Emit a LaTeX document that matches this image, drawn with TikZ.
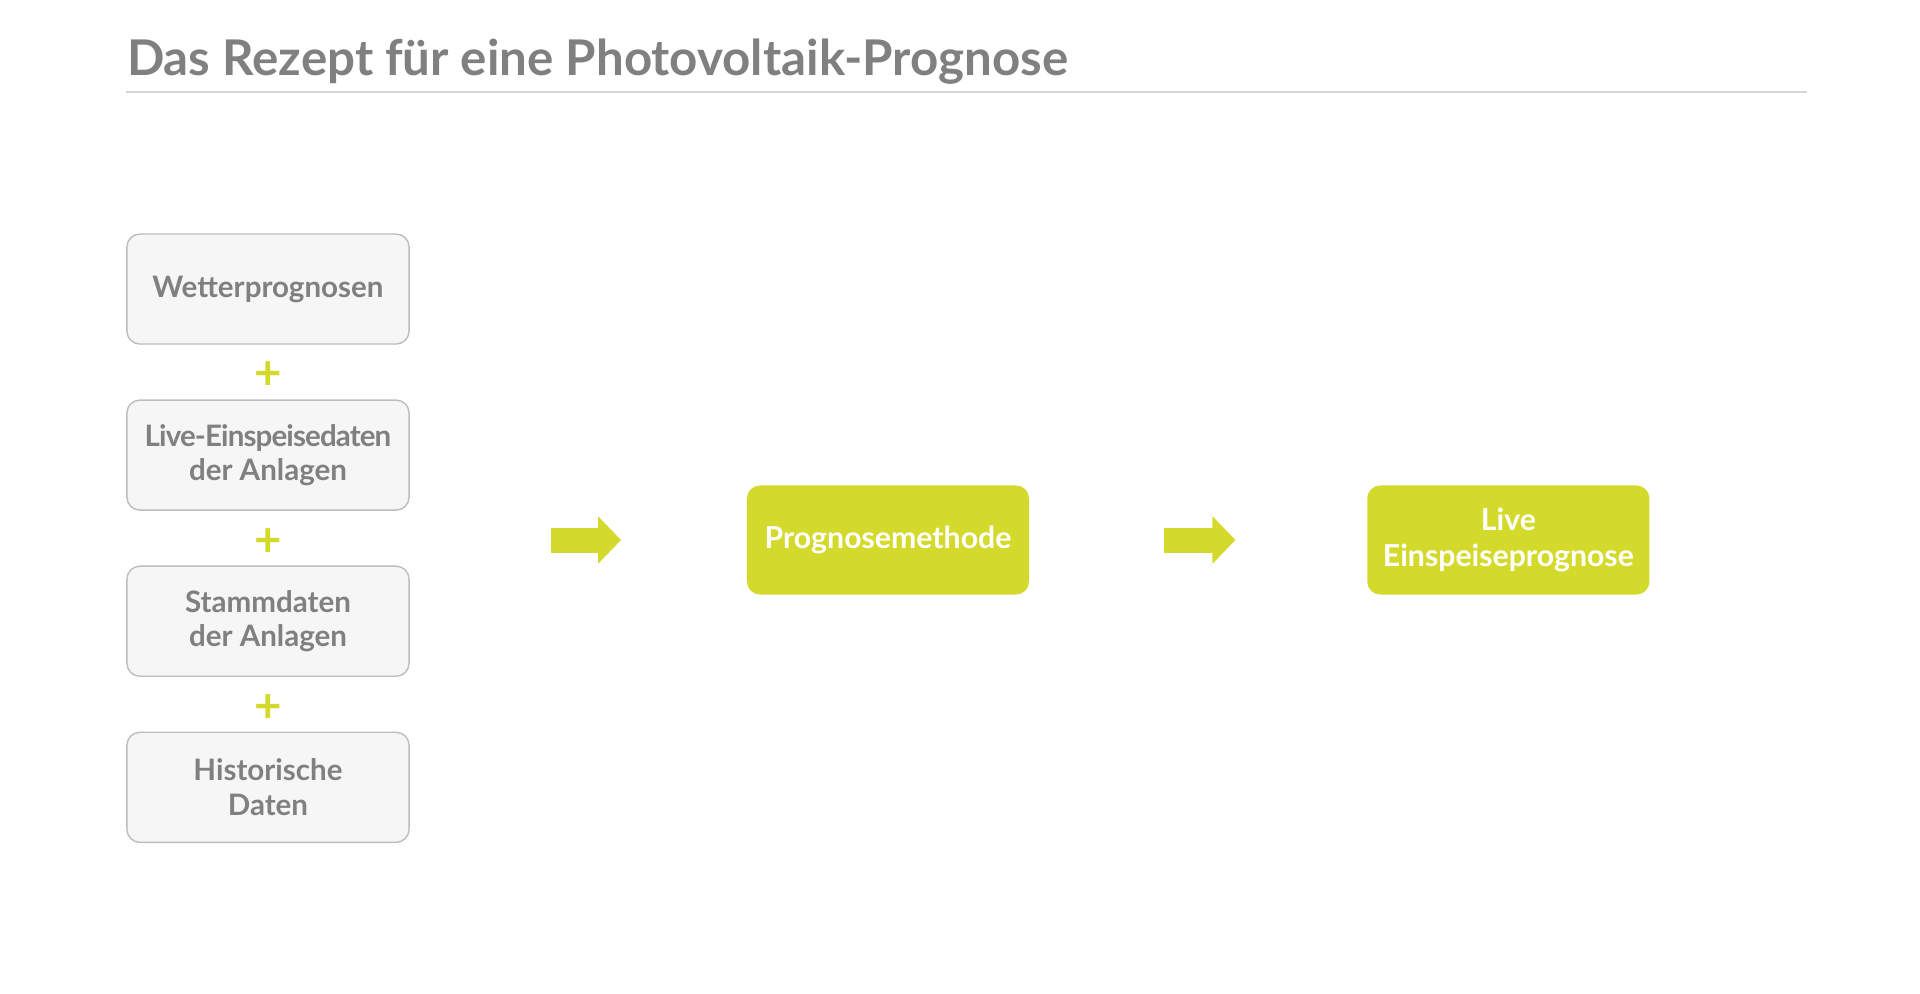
\documentclass[tikz,border=0pt]{standalone}
\usepackage{fontspec}
\setmainfont{Lato}
\usetikzlibrary{arrows.meta}
\usepackage{xcolor}
\definecolor{pvgreen}{HTML}{D3DA2B}
\definecolor{pvgray}{HTML}{808080}
\definecolor{pvfill}{HTML}{F6F6F6}
\definecolor{pvline}{HTML}{BDBDBD}
\definecolor{pvrule}{HTML}{D6D6D6}

\begin{document}
\begin{tikzpicture}[
            x = 0.01cm,
            y = -0.01cm,
            node distance = 1.66cm,
            semithick
        ]

        \tikzstyle{inbox}=[
            draw = pvline,
            line width = 0.4pt,
            fill = pvfill,
            rounded corners = 0.13cm,
            minimum width = 2.82cm,
            minimum height = 1.1cm,
            inner sep = 0pt,
            align = center,
            text = pvgray,
            font = \fontsize{8.4}{9.8}\selectfont\bfseries
        ]
        \tikzstyle{outbox}=[
            inbox,
            draw = none,
            fill = pvgreen,
            text = white,
            minimum height = 1.09cm,
            font = \fontsize{8.6}{10.3}\selectfont\bfseries
        ]
        \tikzstyle{plus}=[
            text = pvgreen,
            inner sep = 0pt,
            yshift = -0.04cm,
            font = \fontsize{13.5}{13.5}\selectfont\bfseries
        ]
        \tikzstyle{bigarrow}=[
            draw = pvgreen,
            line width = 0.25cm,
            -{Triangle[length=0.23cm, width=0.46cm]}
        ]

        \useasboundingbox (0,0) rectangle (1920,993);

        \node[anchor=base west, inner sep=0pt, text=pvgray,
            font=\fontsize{14}{16}\selectfont\bfseries] (title) at (126,75)
            {Das Rezept für eine Photovoltaik-Prognose};
        \draw[pvrule, line width=0.4pt] (126,92) -- (1807,92);

        \node[inbox] (wetter) at (268,289) {Wetterprognosen};
        \node[inbox] (einsp) [below of=wetter]
            {{\addfontfeature{LetterSpace=-3}Live-Einspeisedaten}\\der Anlagen};
        \node[inbox] (stamm) [below of=einsp] {Stammdaten\\der Anlagen};
        \node[inbox] (hist) [below of=stamm] {Historische\\Daten};

        \node[plus] (p1) [below of=wetter, node distance=0.83cm] {+};
        \node[plus] (p2) [below of=einsp, node distance=0.83cm] {+};
        \node[plus] (p3) [below of=stamm, node distance=0.83cm] {+};

        \node[outbox] (methode) at (888,540) {Prognosemethode};
        \node[outbox] (prognose) [right of=methode, node distance=6.2cm] {Live\\Einspeiseprognose};

        \draw[bigarrow, shorten <=1.41cm, shorten >=1.25cm] (methode -| einsp.east) -- (methode.west);
        \draw[bigarrow, shorten <=1.34cm, shorten >=1.31cm] (methode.east) -- (prognose.west);
    \end{tikzpicture}
\end{document}
